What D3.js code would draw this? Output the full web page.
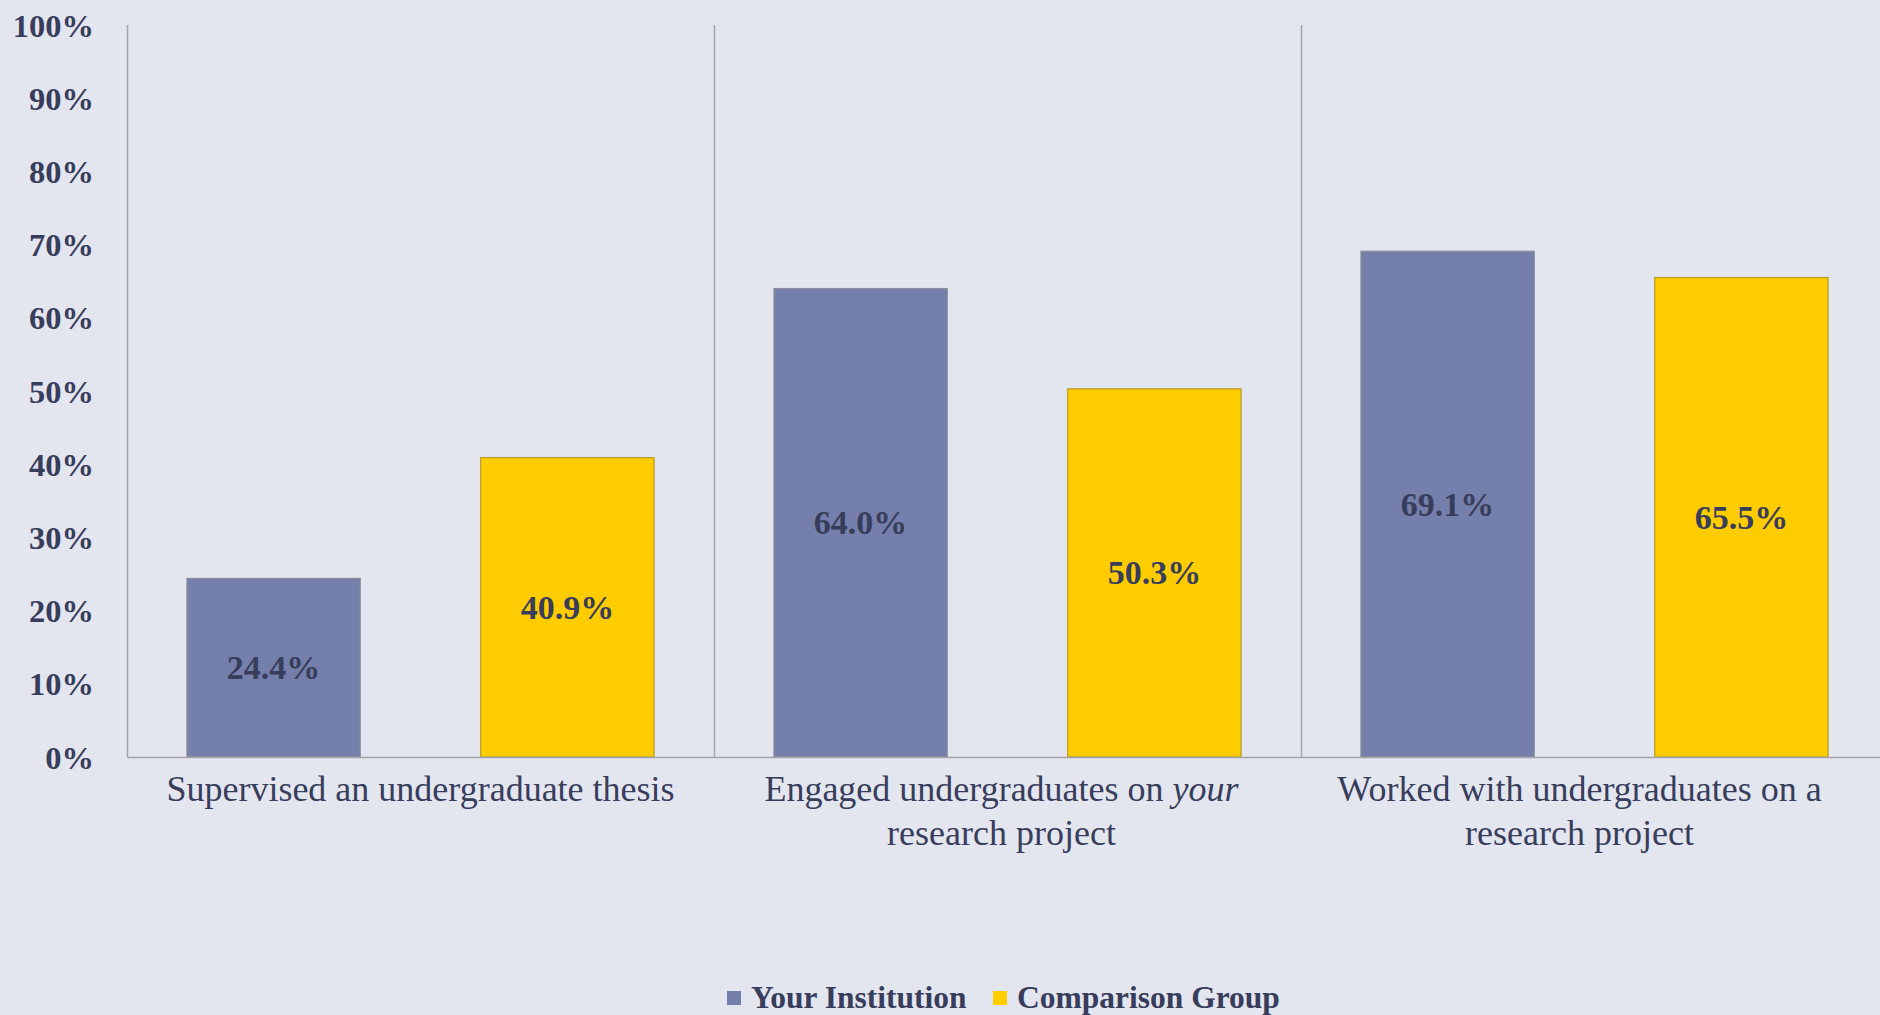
<!DOCTYPE html>
<html>
<head>
<meta charset="utf-8">
<script src="https://cdn.jsdelivr.net/npm/d3@7"></script>
<style>
  html, body { margin: 0; padding: 0; background: #e3e6ee; overflow: hidden; }
  svg { display: block; }
</style>
</head>
<body>
<div id="viz"></div>
<script>
// chart data
var categories = ["thesis", "your", "worked"];
var categoryLines = [
  ["Supervised an undergraduate thesis"],
  ["Engaged undergraduates on *your*", "research project"],
  ["Worked with undergraduates on a", "research project"]
];
var seriesNames = ["Your Institution", "Comparison Group"];
var yourInstitution = [24.4, 64.0, 69.1];
var comparisonGroup = [40.9, 50.3, 65.5];
var yTicks = [0, 10, 20, 30, 40, 50, 60, 70, 80, 90, 100];

var colors = ["#7480ab", "#ffcc00"];
var strokes = ["#8e8e9a", "#b89a2a"];
var textColor = "#383d5c";
var serif = "'Liberation Serif', 'DejaVu Serif', serif";

var width = 1880, height = 1015;
var margin = {left: 127, top: 25, bottom: 258};
var plotBottom = height - margin.bottom;
var labelDx = [0, -6, -15]; // excel centres wrapped labels a bit left

var svg = d3.select("#viz").append("svg")
  .attr("width", width)
  .attr("height", height);

svg.append("rect").attr("width", width).attr("height", height).attr("fill", "#e3e6ee");

var x0 = d3.scaleBand()
  .domain(categories)
  .range([margin.left, margin.left + 587 * 3])
  .padding(0);

var x1 = d3.scaleBand()
  .domain(seriesNames)
  .range([0, x0.bandwidth()])
  .paddingInner(0.41)
  .paddingOuter(0.204);

var y = d3.scaleLinear()
  .domain([0, 100])
  .range([plotBottom, margin.top]);

var rows = categories.map(function(c, i) {
  return {cat: c, values: [
    {name: seriesNames[0], v: yourInstitution[i], s: 0},
    {name: seriesNames[1], v: comparisonGroup[i], s: 1}
  ]};
});

// y axis labels
var yAxis = d3.axisLeft(y)
  .tickValues(yTicks)
  .tickSize(0)
  .tickPadding(33)
  .tickFormat(function(d) { return d + "%"; });

var gy = svg.append("g")
  .attr("transform", "translate(" + margin.left + ",0)")
  .call(yAxis);
gy.select(".domain").remove();
gy.selectAll("text")
  .attr("font-family", serif)
  .attr("font-weight", "bold")
  .attr("font-size", 32.5)
  .attr("fill", textColor)
  .attr("dy", "0.34em");

// bars
var groups = svg.selectAll("g.cat")
  .data(rows)
  .enter().append("g")
  .attr("class", "cat")
  .attr("transform", function(d) { return "translate(" + x0(d.cat) + ",0)"; });

groups.selectAll("rect")
  .data(function(d) { return d.values; })
  .enter().append("rect")
  .attr("x", function(d) { return x1(d.name); })
  .attr("y", function(d) { return y(d.v); })
  .attr("width", x1.bandwidth())
  .attr("height", function(d) { return plotBottom - y(d.v); })
  .attr("fill", function(d) { return colors[d.s]; })
  .attr("stroke", function(d) { return strokes[d.s]; })
  .attr("stroke-width", 1.2);

groups.selectAll("text.val")
  .data(function(d) { return d.values; })
  .enter().append("text")
  .attr("class", "val")
  .attr("x", function(d) { return x1(d.name) + x1.bandwidth() / 2; })
  .attr("y", function(d) { return (y(d.v) + plotBottom) / 2; })
  .attr("dy", "0.34em")
  .attr("text-anchor", "middle")
  .attr("font-family", serif)
  .attr("font-weight", "bold")
  .attr("font-size", 34)
  .attr("fill", textColor)
  .text(function(d) { return d.v.toFixed(1) + "%"; });

// axis lines and dividers
var lineColor = "#a3a3a8";
svg.selectAll("line.div")
  .data(categories)
  .enter().append("line")
  .attr("class", "div")
  .attr("x1", function(d) { return x0(d) + 0.5; })
  .attr("x2", function(d) { return x0(d) + 0.5; })
  .attr("y1", margin.top)
  .attr("y2", plotBottom)
  .attr("stroke", lineColor)
  .attr("stroke-width", 1.5);

svg.append("line")
  .attr("x1", margin.left)
  .attr("x2", width)
  .attr("y1", plotBottom + 0.5)
  .attr("y2", plotBottom + 0.5)
  .attr("stroke", lineColor)
  .attr("stroke-width", 1.5);

// category labels
var catText = svg.selectAll("text.cat")
  .data(rows)
  .enter().append("text")
  .attr("class", "cat")
  .attr("text-anchor", "middle")
  .attr("font-family", serif)
  .attr("font-size", 36)
  .attr("fill", textColor);

catText.each(function(d, i) {
  var t = d3.select(this);
  var cx = x0(d.cat) + x0.bandwidth() / 2 + labelDx[i];
  categoryLines[i].forEach(function(line, li) {
    var parts = line.split("*");
    parts.forEach(function(p, pi) {
      if (!p) return;
      var ts = t.append("tspan").text(p);
      if (pi === 0) ts.attr("x", cx).attr("y", 801 + li * 44);
      if (pi % 2 === 1) ts.attr("font-style", "italic");
    });
  });
});

// legend
var legend = svg.append("g").attr("class", "legend");
var legendX = [727, 993];
seriesNames.forEach(function(name, i) {
  legend.append("rect")
    .attr("x", legendX[i])
    .attr("y", 991)
    .attr("width", 14)
    .attr("height", 14)
    .attr("fill", colors[i]);
  legend.append("text")
    .attr("x", legendX[i] + 24)
    .attr("y", 1008)
    .attr("font-family", serif)
    .attr("font-weight", "bold")
    .attr("font-size", 31.5)
    .attr("fill", textColor)
    .text(name);
});
</script>
</body>
</html>
